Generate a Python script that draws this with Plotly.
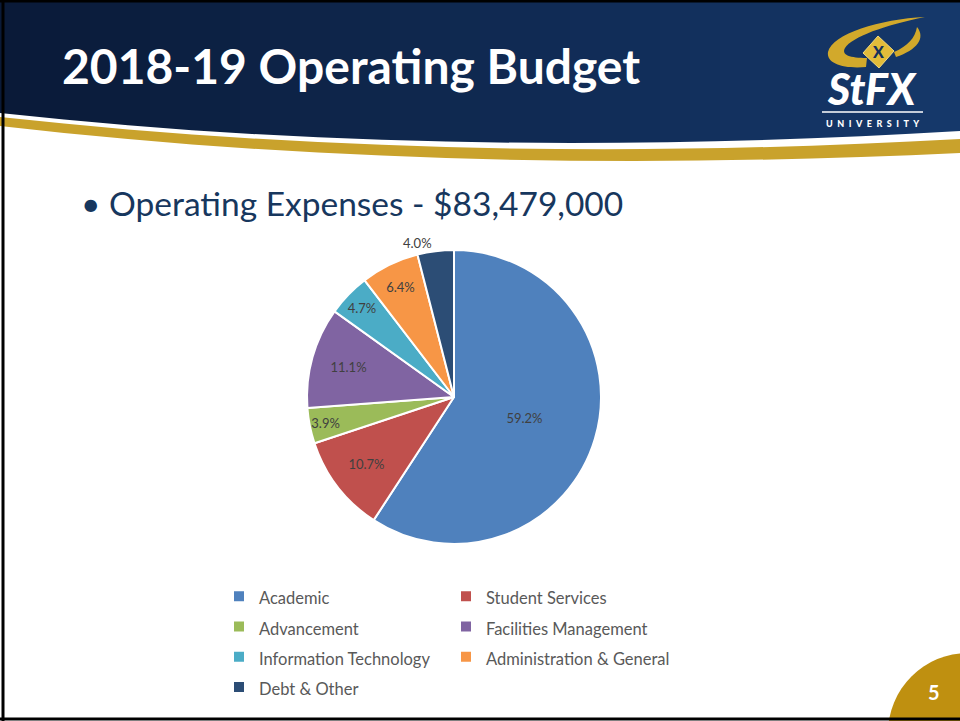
import plotly.graph_objects as go

# ---------------- data ----------------
categories = ["Academic", "Student Services", "Advancement", "Facilities Management",
              "Information Technology", "Administration & General", "Debt & Other"]
shares = [59.2, 10.7, 3.9, 11.1, 4.7, 6.4, 4.0]
slice_colors = ["#4F81BD", "#C0504D", "#9BBB59", "#8064A2", "#4BACC6", "#F79646", "#2C4D75"]
label_positions = ["inside", "inside", "inside", "inside", "inside", "inside", "outside"]
title_text = "2018-19 Operating Budget"
bullet_text = "• Operating Expenses - $83,479,000"
page_number = "5"

# ---------------- page geometry helpers ----------------
W, H = 960, 721
L, R = 200, 240
PW = W - L - R


def px(x):
    return (x - L) / PW


def py(y):
    return 1 - y / H


def path(*segs):
    out = []
    for seg in segs:
        cmd, pts = seg[0], seg[1:]
        out.append(cmd + " " + " ".join(f"{px(x):.5f},{py(y):.5f}" for x, y in pts))
    return " ".join(out)


def lerp_color(c1, c2, t):
    a = [int(c1[i:i + 2], 16) for i in (1, 3, 5)]
    b = [int(c2[i:i + 2], 16) for i in (1, 3, 5)]
    return "#" + "".join(f"{round(a[k] + (b[k] - a[k]) * t):02x}" for k in range(3))


shapes = []
# header gradient strips
n = 32
for i in range(n):
    x0 = W * i / n
    x1 = W * (i + 1) / n + 1
    shapes.append(dict(type="rect", xref="paper", yref="paper", layer="below",
                       x0=px(x0), x1=px(x1), y0=py(0), y1=py(170),
                       fillcolor=lerp_color("#0A1A38", "#15386A", i / (n - 1)),
                       line=dict(width=0)))
# white area below the curved header edge
shapes.append(dict(type="path", xref="paper", yref="paper", layer="below",
                   path=path(("M", (0, 113)), ("C", (320, 148), (640, 150), (960, 131)),
                             ("L", (960, 175)), ("L", (0, 175))) + " Z",
                   fillcolor="white", line=dict(width=0)))
# gold swoosh band
shapes.append(dict(type="path", xref="paper", yref="paper", layer="below",
                   path=path(("M", (0, 117)), ("C", (320, 152), (640, 157), (960, 139)),
                             ("L", (960, 153)), ("C", (640, 168), (320, 163), (0, 126))) + " Z",
                   fillcolor="#C9A22C", line=dict(width=0)))
# logo swoosh
shapes.append(dict(type="path", xref="paper", yref="paper", layer="above",
                   path=path(("M", (925, 17)), ("C", (880, 19), (832, 34), (828, 52)),
                             ("C", (826, 64), (845, 69), (866, 67)), ("L", (867, 58)),
                             ("C", (850, 58), (841, 55), (845, 48)),
                             ("C", (852, 37), (885, 25), (925, 17))) + " Z",
                   fillcolor="#D2A92B", line=dict(width=0)))
shapes.append(dict(type="path", xref="paper", yref="paper", layer="above",
                   path=path(("M", (917, 27)), ("C", (926, 38), (917, 50), (896, 57)),
                             ("L", (894, 52)), ("C", (908, 46), (915, 38), (917, 27))) + " Z",
                   fillcolor="#D2A92B", line=dict(width=0)))
shapes.append(dict(type="path", xref="paper", yref="paper", layer="above",
                   path=path(("M", (878, 36)), ("L", (894, 51)), ("L", (879, 68)),
                             ("L", (863, 53))) + " Z",
                   fillcolor="#E2BC3A", line=dict(color="#F3DA7A", width=1)))
# logo rule
shapes.append(dict(type="line", xref="paper", yref="paper", layer="above",
                   x0=px(822), x1=px(923), y0=py(112), y1=py(112),
                   line=dict(color="white", width=1.5)))
# page number disc
shapes.append(dict(type="circle", xref="paper", yref="paper", layer="below",
                   x0=px(888), x1=px(1048), y0=py(813), y1=py(653),
                   fillcolor="#BF9010", line=dict(width=0)))
# slide frame
shapes.append(dict(type="line", xref="paper", yref="paper", layer="above",
                   x0=px(3), x1=px(3), y0=py(0), y1=py(721), line=dict(color="black", width=3)))
shapes.append(dict(type="line", xref="paper", yref="paper", layer="above",
                   x0=px(0), x1=px(960), y0=py(1), y1=py(1), line=dict(color="black", width=3)))
shapes.append(dict(type="line", xref="paper", yref="paper", layer="above",
                   x0=px(0), x1=px(960), y0=py(719), y1=py(719), line=dict(color="black", width=3)))

annotations = [
    dict(text=title_text, x=px(60), y=py(66), xref="paper", yref="paper",
         xanchor="left", yanchor="middle", showarrow=False,
         font=dict(family="Lato", size=48, color="white", weight=700)),
    dict(text=bullet_text, x=px(79), y=py(203), xref="paper", yref="paper",
         xanchor="left", yanchor="middle", showarrow=False,
         font=dict(family="Lato", size=33.5, color="#17375E")),
    dict(text="StFX", x=px(872), y=py(89), xref="paper", yref="paper",
         xanchor="center", yanchor="middle", showarrow=False,
         font=dict(family="Lato", size=43, color="white", weight=900, style="italic")),
    dict(text="\u2002".join("UNIVERSITY"), x=px(872), y=py(123), xref="paper", yref="paper",
         xanchor="center", yanchor="middle", showarrow=False,
         font=dict(family="Lato", size=9, color="white", weight=900)),
    dict(text="X", x=px(878), y=py(52), xref="paper", yref="paper",
         xanchor="center", yanchor="middle", showarrow=False,
         font=dict(family="Lato", size=16, color="#13305E", weight=900)),
    dict(text=page_number, x=px(934), y=py(692), xref="paper", yref="paper",
         xanchor="center", yanchor="middle", showarrow=False,
         font=dict(family="Lato", size=20, color="white", weight=700)),
]

legend_labels = [f"<span style='font-size:16.5px'>{c}</span>" for c in categories]

fig = go.Figure(go.Pie(
    labels=legend_labels,
    values=shares,
    sort=False,
    direction="clockwise",
    rotation=0,
    marker=dict(colors=slice_colors, line=dict(color="white", width=2)),
    texttemplate="%{percent:.1%}",
    textposition=label_positions,
    insidetextorientation="horizontal",
    textfont=dict(family="Lato", size=13, color="#404040"),
    hoverinfo="label+percent",
    domain=dict(x=[px(307), px(601)], y=[py(544), py(250)]),
))

fig.update_layout(
    width=W, height=H,
    margin=dict(l=L, r=R, t=0, b=0, pad=0),
    paper_bgcolor="white",
    plot_bgcolor="white",
    showlegend=True,
    legend=dict(orientation="h", x=px(219), xanchor="left", y=py(576), yanchor="top",
                entrywidth=182, entrywidthmode="pixels",
                font=dict(family="Lato", size=21, color="#595959"),
                bgcolor="rgba(0,0,0,0)", borderwidth=0, traceorder="normal"),
    uniformtext=dict(minsize=13, mode="show"),
    shapes=shapes,
    annotations=annotations,
)

fig.write_html("out.html", config={"displayModeBar": False},
               post_script="document.body.style.margin='0px';document.body.style.padding='0px';")
